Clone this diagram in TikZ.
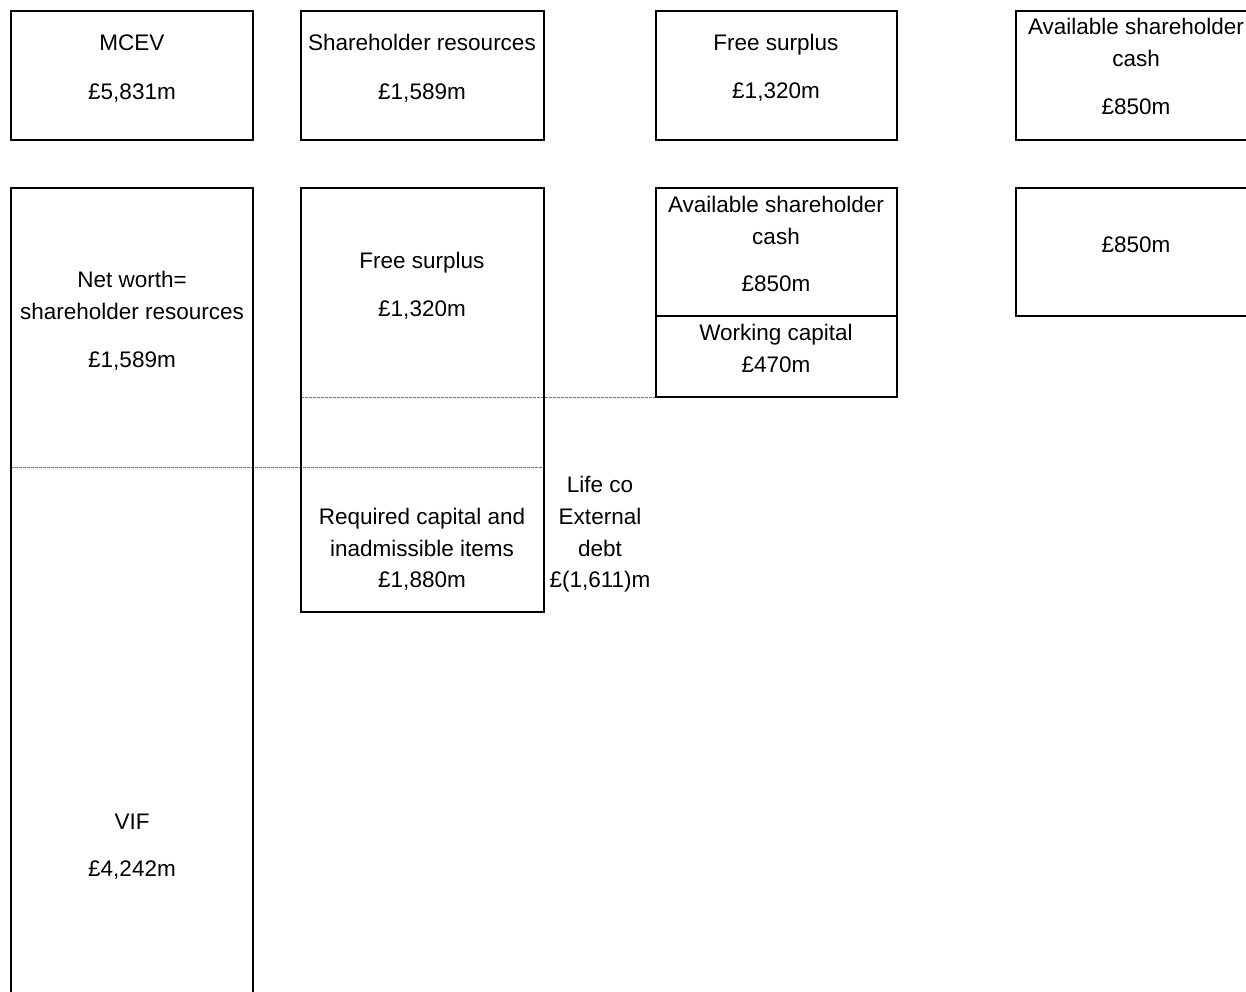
\documentclass[tikz,border=0pt]{standalone}
\usepackage{fontspec}
\setmainfont{Liberation Sans}
\begin{document}
\begin{tikzpicture}[x=1pt,y=-1pt,
  boxline/.style={draw=black,line width=2pt},
  divline/.style={draw=black!55,line width=1pt,dash pattern=on 3pt off 1pt},
  lbl/.style={anchor=base,inner sep=0pt,font=\fontsize{22.5}{27}\selectfont}]
\useasboundingbox (0,0) rectangle (1246,991);
\clip (0,0) rectangle (1246,991);
% dashed levels
\draw[divline] (11,467) -- (544,467);
\draw[divline] (301,397) -- (656,397);
% top row boxes
\draw[boxline] (11,11) rectangle (253,140);
\draw[boxline] (301,11) rectangle (544,140);
\draw[boxline] (656,11) rectangle (897,140);
\draw[boxline] (1016,11) rectangle (1270,140);
% second row boxes
\draw[boxline] (11,188) rectangle (253,1010);
\draw[boxline] (301,188) rectangle (544,612);
\draw[boxline] (656,188) rectangle (897,397);
\draw[boxline] (656,316) -- (897,316);
\draw[boxline] (1016,188) rectangle (1270,316);
% texts
\node[lbl] (t1a) at (132,50) {MCEV};
\node[lbl] (t1b) at (132,99) {£5,831m};
\node[lbl] (t2a) at (422,50) {Shareholder resources};
\node[lbl] (t2b) at (422,99) {£1,589m};
\node[lbl] (t3a) at (776,50) {Free surplus};
\node[lbl] (t3b) at (776,98) {£1,320m};
\node[lbl] (t4a) at (1136,34) {Available shareholder};
\node[lbl] (t4b) at (1136,66) {cash};
\node[lbl] (t4c) at (1136,114) {£850m};
\node[lbl] (n1) at (132,287) {Net worth=};
\node[lbl] (n2) at (132,319) {shareholder resources};
\node[lbl] (n3) at (132,367) {£1,589m};
\node[lbl] (v1) at (132,829) {VIF};
\node[lbl] (v2) at (132,876) {£4,242m};
\node[lbl] (f1) at (422,268) {Free surplus};
\node[lbl] (f2) at (422,316) {£1,320m};
\node[lbl] (r1) at (422,524) {Required capital and};
\node[lbl] (r2) at (422,556) {inadmissible items};
\node[lbl] (r3) at (422,587) {£1,880m};
\node[lbl] (l1) at (600,492) {Life co};
\node[lbl] (l2) at (600,524) {External};
\node[lbl] (l3) at (600,556) {debt};
\node[lbl] (l4) at (600,587) {£(1,611)m};
\node[lbl] (a1) at (776,212) {Available shareholder};
\node[lbl] (a2) at (776,244) {cash};
\node[lbl] (a3) at (776,291) {£850m};
\node[lbl] (w1) at (776,340) {Working capital};
\node[lbl] (w2) at (776,372) {£470m};
\node[lbl] (c1) at (1136,252) {£850m};
\end{tikzpicture}
\end{document}
